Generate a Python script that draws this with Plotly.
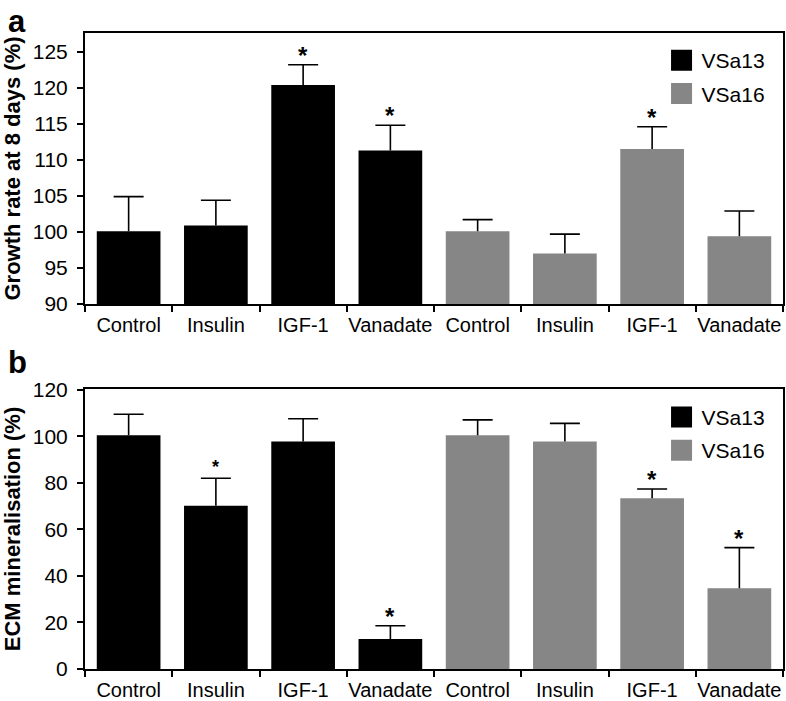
import plotly.graph_objects as go

categories = ["Control", "Insulin", "IGF-1", "Vanadate"]
series_names = ["VSa13", "VSa16"]

# Panel a: growth rate at 8 days (%)
growth_vsa13 = [100.1, 100.9, 120.4, 111.3]
growth_vsa13_err = [4.8, 3.5, 2.8, 3.5]
growth_vsa16 = [100.1, 97.0, 111.5, 99.4]
growth_vsa16_err = [1.6, 2.7, 3.1, 3.5]
growth_sig_vsa13 = [False, False, True, True]
growth_sig_vsa16 = [False, False, True, False]

# Panel b: ECM mineralisation (%)
ecm_vsa13 = [100.5, 70.2, 97.8, 12.9]
ecm_vsa13_err = [9.0, 11.8, 9.8, 5.7]
ecm_vsa16 = [100.5, 97.8, 73.4, 34.7]
ecm_vsa16_err = [6.6, 7.8, 4.0, 17.5]
ecm_sig_vsa13 = [False, "small", False, True]
ecm_sig_vsa16 = [False, False, True, True]

growth_ticks = [90, 95, 100, 105, 110, 115, 120, 125]
ecm_ticks = [0, 20, 40, 60, 80, 100, 120]

colors = ["#000000", "#868686"]
FONT = "Liberation Sans, Arial, Helvetica, sans-serif"

n = len(categories)
x13 = list(range(n))
x16 = [n + i for i in range(n)]
all_x = x13 + x16
all_labels = categories + categories
boundaries = [i - 0.5 for i in range(2 * n + 1)]

fig = go.Figure()


def add_panel(vals13, err13, vals16, err16, xa, ya, legend_name):
    for xs, vals, err, col in [(x13, vals13, err13, colors[0]), (x16, vals16, err16, colors[1])]:
        # bar with the vertical stem of the error bar (upper side only, no caps)
        fig.add_trace(go.Bar(
            x=xs, y=vals, width=0.73, marker=dict(color=col, line=dict(width=0)),
            error_y=dict(type="data", symmetric=False, array=err, arrayminus=[0] * len(err),
                         color="black", thickness=1.6, width=0),
            showlegend=False, xaxis=xa, yaxis=ya, hoverinfo="y"))
        # the top cap of each error bar
        tops = [v + e for v, e in zip(vals, err)]
        fig.add_trace(go.Scatter(
            x=xs, y=tops, mode="markers", marker=dict(size=1, opacity=0),
            error_y=dict(type="data", array=[0] * len(err), color="black",
                         thickness=1.6, width=15),
            showlegend=False, xaxis=xa, yaxis=ya, hoverinfo="skip"))
    for name, col in zip(series_names, colors):
        fig.add_trace(go.Scatter(
            x=[None], y=[None], mode="markers", name=name, legendgroup=name + legend_name,
            marker=dict(symbol="square", size=16, color=col, line=dict(color=col, width=5)),
            xaxis=xa, yaxis=ya, legend=legend_name))


add_panel(growth_vsa13, growth_vsa13_err, growth_vsa16, growth_vsa16_err, "x", "y", "legend")
add_panel(ecm_vsa13, ecm_vsa13_err, ecm_vsa16, ecm_vsa16_err, "x2", "y2", "legend2")

annotations = []


def add_stars(xs, vals, errs, sigs, xref, yref):
    for x, v, e, s in zip(xs, vals, errs, sigs):
        if s:
            size = 18 if s == "small" else 24
            annotations.append(dict(
                x=x, y=v + e, xref=xref, yref=yref, text="*", showarrow=False,
                yanchor="bottom", yshift=-1 if s == "small" else -6,
                font=dict(family=FONT, size=size, color="black", weight="bold")))


add_stars(x13, growth_vsa13, growth_vsa13_err, growth_sig_vsa13, "x", "y")
add_stars(x16, growth_vsa16, growth_vsa16_err, growth_sig_vsa16, "x", "y")
add_stars(x13, ecm_vsa13, ecm_vsa13_err, ecm_sig_vsa13, "x2", "y2")
add_stars(x16, ecm_vsa16, ecm_vsa16_err, ecm_sig_vsa16, "x2", "y2")

for label, yp in [("a", 1.0173), ("b", 0.4827)]:
    annotations.append(dict(
        x=-0.097, y=yp, xref="paper", yref="paper", text=label, showarrow=False,
        xanchor="center", yanchor="middle",
        font=dict(family=FONT, size=31, color="black", weight="bold")))

xaxis_common = dict(
    range=[-0.5, 2 * n - 0.5], tickmode="array", tickvals=all_x, ticktext=all_labels,
    ticks="", showgrid=False, zeroline=False, showline=True, linecolor="black",
    linewidth=2, mirror=True, ticklabelstandoff=2, automargin=False,
    tickfont=dict(family=FONT, size=20, color="black"),
    minor=dict(tickmode="array", tickvals=boundaries, ticks="outside", ticklen=6,
               tickwidth=1.5, tickcolor="black", showgrid=False),
)
yaxis_common = dict(
    ticks="outside", ticklen=6, tickwidth=1.5, tickcolor="black", showgrid=False,
    zeroline=False, showline=True, linecolor="black", linewidth=2, mirror=True,
    tickfont=dict(family=FONT, size=21, color="black"), ticklabelstandoff=5,
    automargin=False,
)

legend_common = dict(
    font=dict(family=FONT, size=21, color="black"), bgcolor="rgba(0,0,0,0)",
    xanchor="left", yanchor="top", tracegroupgap=3, itemsizing="trace",
)

fig.update_layout(
    width=786, height=701,
    margin=dict(l=85, r=3, t=33, b=32),
    paper_bgcolor="white", plot_bgcolor="white",
    barmode="overlay",
    xaxis=dict(domain=[0, 1], anchor="y", **xaxis_common),
    yaxis=dict(domain=[0.5739, 1], anchor="x", range=[90, 127.6], tickvals=growth_ticks,
               title=dict(text="Growth rate at 8 days (%)", standoff=11,
                          font=dict(family=FONT, size=22, color="black", weight="bold")),
               **yaxis_common),
    xaxis2=dict(domain=[0, 1], anchor="y2", **xaxis_common),
    yaxis2=dict(domain=[0, 0.4403], anchor="x2", range=[0, 120.4], tickvals=ecm_ticks,
                title=dict(text="ECM mineralisation (%)", standoff=11,
                           font=dict(family=FONT, size=22, color="black", weight="bold")),
                **yaxis_common),
    legend=dict(x=0.826, y=0.989, **legend_common),
    legend2=dict(x=0.826, y=0.428, **legend_common),
    annotations=annotations,
    showlegend=True,
)

fig.write_html("out.html", post_script="document.body.style.margin='0px';",
               config={"displayModeBar": False})
